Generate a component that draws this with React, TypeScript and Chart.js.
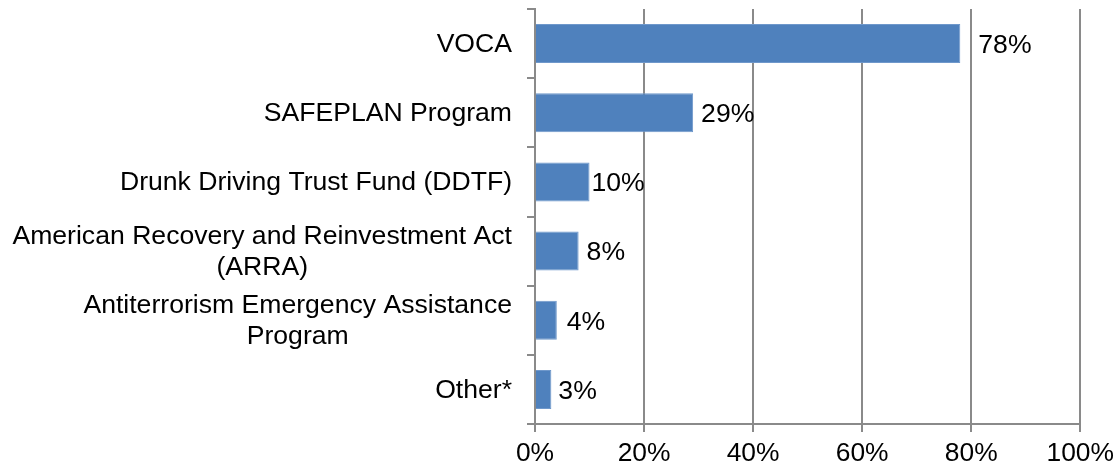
import React, { useEffect, useRef } from "react";
import { Chart, registerables } from "chart.js";

Chart.register(...registerables);

const categories: string[][] = [
  ["VOCA"],
  ["SAFEPLAN Program"],
  ["Drunk Driving Trust Fund (DDTF)"],
  ["American Recovery and Reinvestment Act", "(ARRA)"],
  ["Antiterrorism Emergency Assistance", "Program"],
  ["Other*"],
];
const values: number[] = [78, 29, 10, 8, 4, 3];
const xTicks: number[] = [0, 20, 40, 60, 80, 100];
// horizontal gap (px) between each bar end and its value label, as in the reference
const labelGaps: number[] = [18, 8, 2, 8, 10, 7];

const FONT = "'Liberation Sans', Arial, sans-serif";
const GRID = "#8a8a8a";

const labelsPlugin = {
  id: "customLabels",
  afterDraw(chart: any) {
    const ctx = chart.ctx;
    const y = chart.scales.y;
    ctx.save();
    ctx.font = `26.6px ${FONT}`;
    ctx.fillStyle = "#000";
    ctx.textBaseline = "middle";
    ctx.textAlign = "center";
    const lh = 31;
    categories.forEach((lines, i) => {
      const cy = y.getPixelForTick(i) + 1;
      const w = Math.max(...lines.map((l) => ctx.measureText(l).width));
      const cx = 512 - w / 2;
      const start = cy - ((lines.length - 1) * lh) / 2;
      lines.forEach((l, j) => ctx.fillText(l, cx, start + j * lh));
    });
    const meta = chart.getDatasetMeta(0);
    ctx.textAlign = "left";
    meta.data.forEach((bar: any, i: number) => {
      ctx.fillText(values[i] + "%", bar.x + labelGaps[i], bar.y + 2);
    });
    ctx.restore();
  },
};

export default function App() {
  const ref = useRef<HTMLCanvasElement>(null);
  useEffect(() => {
    document.body.style.margin = "0";
    const chart = new Chart(ref.current!, {
      type: "bar",
      data: {
        labels: categories.map((c) => c.join(" ")),
        datasets: [
          {
            data: values,
            backgroundColor: "#4F81BD",
            borderColor: "#6F98CB",
            borderWidth: 1,
            barPercentage: 0.565,
            categoryPercentage: 1,
          },
        ],
      },
      options: {
        indexAxis: "y",
        responsive: false,
        animation: false,
        layout: { padding: { top: 9, right: 38, left: 0, bottom: 0 } },
        plugins: { legend: { display: false }, tooltip: { enabled: false } },
        scales: {
          x: {
            min: 0,
            max: 100,
            afterBuildTicks: (s: any) => {
              s.ticks = xTicks.map((v) => ({ value: v }));
            },
            afterFit: (s: any) => {
              s.height = 44;
            },
            grid: {
              color: GRID,
              lineWidth: 2,
              drawTicks: true,
              tickLength: 8,
            },
            border: { display: true, color: GRID, width: 2 },
            ticks: {
              padding: 6,
              color: "#000",
              font: { family: FONT, size: 26.4 },
              callback: (v: any) => v + "%",
              maxRotation: 0,
            },
          },
          y: {
            afterFit: (s: any) => {
              s.width = 535;
            },
            grid: {
              drawOnChartArea: false,
              drawTicks: true,
              tickLength: 8,
              color: GRID,
              lineWidth: 2,
              offset: true,
            },
            border: { display: true, color: GRID, width: 2 },
            ticks: { display: false },
          },
        },
      },
      plugins: [labelsPlugin],
    });
    return () => chart.destroy();
  }, []);
  return (
    <div style={{ width: 1120, height: 468 }}>
      <canvas ref={ref} width={1120} height={468} />
    </div>
  );
}
